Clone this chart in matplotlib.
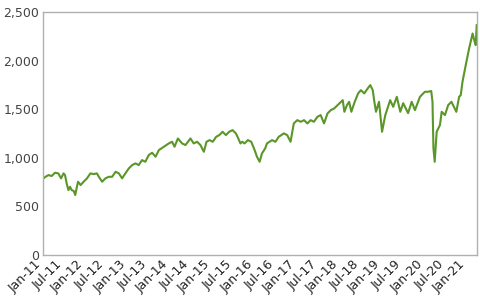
import matplotlib
matplotlib.use("Agg")
import matplotlib.pyplot as plt
import matplotlib.dates as mdates
import matplotlib.ticker as mticker
import pandas as pd

# values
dates = [
    "2011-01-03", "2011-01-20", "2011-02-15", "2011-03-14", "2011-04-12",
    "2011-05-10", "2011-06-03", "2011-06-24", "2011-07-07", "2011-07-21",
    "2011-08-05", "2011-08-19", "2011-09-02", "2011-09-20", "2011-10-03",
    "2011-10-17", "2011-10-27", "2011-11-18", "2011-12-14", "2012-01-12",
    "2012-02-10", "2012-03-09", "2012-04-06", "2012-04-23", "2012-05-21",
    "2012-06-19", "2012-07-17", "2012-08-15", "2012-09-14", "2012-10-12",
    "2012-11-09", "2012-12-07", "2013-01-06", "2013-02-04", "2013-03-04",
    "2013-04-01", "2013-04-29", "2013-05-28", "2013-06-26", "2013-07-25",
    "2013-08-24", "2013-09-21", "2013-11-03", "2013-12-16", "2014-01-13",
    "2014-02-03", "2014-03-04", "2014-04-09", "2014-05-08", "2014-06-20",
    "2014-07-18", "2014-08-16", "2014-09-14", "2014-10-13", "2014-11-05",
    "2014-12-02", "2014-12-29", "2015-01-27", "2015-02-23", "2015-03-23",
    "2015-04-21", "2015-05-19", "2015-06-17", "2015-07-16", "2015-07-30",
    "2015-08-24", "2015-09-08", "2015-09-28", "2015-10-27", "2015-11-25",
    "2015-12-24", "2016-01-13", "2016-02-05", "2016-02-25", "2016-03-24",
    "2016-04-08", "2016-05-22", "2016-06-20", "2016-07-18", "2016-08-31",
    "2016-09-29", "2016-10-28", "2016-11-25", "2016-12-25", "2017-01-24",
    "2017-02-21", "2017-03-22", "2017-04-19", "2017-05-17", "2017-06-16",
    "2017-07-14", "2017-08-12", "2017-09-11", "2017-10-09", "2017-11-07",
    "2017-12-21", "2018-01-20", "2018-02-03", "2018-02-25", "2018-03-16",
    "2018-04-04", "2018-05-03", "2018-06-01", "2018-06-25", "2018-07-24",
    "2018-08-22", "2018-09-14", "2018-10-05", "2018-10-19", "2018-11-02",
    "2018-11-28", "2018-12-24", "2019-01-21", "2019-03-04", "2019-03-30",
    "2019-04-30", "2019-05-30", "2019-06-24", "2019-08-05", "2019-09-05",
    "2019-10-03", "2019-11-15", "2019-12-27", "2020-01-22", "2020-02-20",
    "2020-03-02", "2020-03-10", "2020-03-21", "2020-04-07", "2020-05-05",
    "2020-05-20", "2020-06-17", "2020-07-15", "2020-08-12", "2020-09-23",
    "2020-10-17", "2020-10-31", "2020-11-15", "2020-12-13", "2021-01-11",
    "2021-02-10", "2021-02-24", "2021-03-09", "2021-03-17",
]
values = [
    790, 806, 824, 814, 848,
    841, 790, 841, 824, 738,
    669, 703, 669, 660, 618,
    703, 755, 721, 755, 790,
    841, 834, 841, 806, 755,
    790, 806, 806, 858, 841,
    790, 841, 893, 927, 944,
    927, 978, 961, 1030, 1054,
    1013, 1081, 1116, 1150, 1167,
    1116, 1201, 1150, 1133, 1201,
    1150, 1167, 1133, 1064, 1167,
    1184, 1167, 1218, 1236, 1270,
    1236, 1270, 1287, 1253, 1218,
    1150, 1167, 1150, 1184, 1167,
    1081, 1013, 961, 1047, 1099,
    1150, 1184, 1167, 1218, 1253,
    1236, 1167, 1356, 1390, 1373,
    1390, 1356, 1390, 1373, 1424,
    1442, 1356, 1459, 1493, 1510,
    1562, 1596, 1476, 1545, 1579,
    1476, 1579, 1665, 1699, 1665,
    1716, 1751, 1699, 1579, 1476,
    1579, 1270, 1442, 1596, 1527,
    1630, 1476, 1565, 1462, 1579,
    1493, 1630, 1682, 1682, 1690,
    1579, 1102, 961, 1270, 1339,
    1476, 1442, 1545, 1579, 1476,
    1630, 1648, 1785, 1957, 2129,
    2283, 2214, 2163, 2369,
]
y_ticks = [0, 500, 1000, 1500, 2000, 2500]
x_start = "2011-01-01"

df = pd.DataFrame({"date": pd.to_datetime(dates), "value": values})

line_color = "#5a9628"
spine_color = "#b0b0b0"
label_color = "#444444"

fig = plt.figure(figsize=(4.81, 2.96), dpi=100)
ax = fig.add_axes([0.09, 0.1385, 0.901, 0.8195])

ax.plot(df["date"], df["value"], color=line_color, linewidth=1.5)

ax.set_ylim(0, 2500)
ax.set_yticks(y_ticks)
ax.yaxis.set_major_formatter(mticker.FuncFormatter(lambda v, p: f"{int(v):,}"))
ax.set_xlim(pd.Timestamp(x_start), df["date"].iloc[-1])

ax.xaxis.set_major_locator(mdates.MonthLocator(bymonth=[1, 7]))
ax.xaxis.set_major_formatter(mdates.DateFormatter("%b-%y"))

for spine in ax.spines.values():
    spine.set_color(spine_color)
    spine.set_linewidth(1.0)

ax.tick_params(axis="both", length=0, labelsize=9, colors=label_color)
ax.tick_params(axis="y", pad=3)
ax.tick_params(axis="x", pad=2, labelcolor="#222222")
for lbl in ax.get_xticklabels():
    lbl.set_rotation(45)
    lbl.set_ha("right")

fig.savefig("out.png", dpi=100)
